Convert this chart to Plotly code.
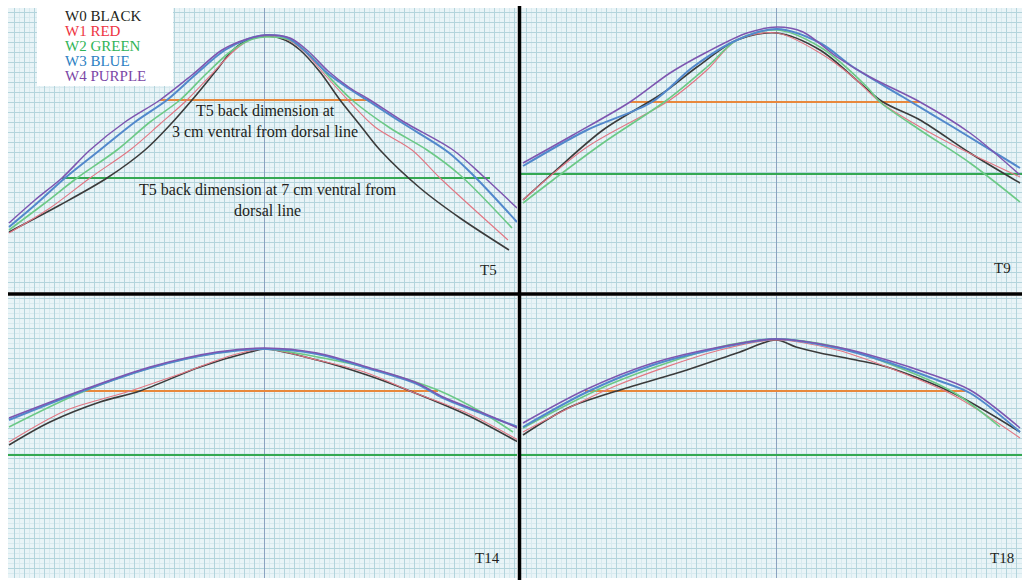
import plotly.graph_objects as go

W, H = 1022, 580

SERIES = ["W0", "W1", "W2", "W3", "W4"]
LEGEND_TEXT = ["W0 BLACK", "W1 RED", "W2 GREEN", "W3 BLUE", "W4 PURPLE"]
LINE_COLORS = ["#3b3b3b", "#e27683", "#6cc986", "#5288cc", "#7d55b0"]
LINE_WIDTHS = [1.6, 1.1, 1.6, 2.0, 1.5]
TEXT_COLORS = ["#231f20", "#ee3342", "#2fb457", "#2b7fc3", "#7b47a6"]

# ---- T5 (x, y in mm on the grid paper; x=0 at the dorsal centre line) ----
T5_X = {
    "W0": [-127.5, -102, -78.5, -59.5, -47, -36, -24.5, -15.5, -7, 2, 10.5, 18, 28, 38, 48, 58, 78, 98, 122.5],
    "W1": [-127.5, -107, -87, -67, -52, -38.5, -27, -14.5, -6, 1, 12, 20.5, 30.5, 42, 55.5, 74, 88, 122],
    "W2": [-127.5, -109.5, -93.5, -73.5, -57, -42, -29.5, -17, -7, 1, 13, 23, 33, 44, 63, 81.5, 98, 124],
    "W3": [-127.5, -114.5, -99.5, -82, -64.5, -48.5, -34.5, -19.5, -8, 1, 12, 21, 31, 42, 53, 70, 92, 105.5, 126.5],
    "W4": [-127.5, -114.5, -101, -87, -69.5, -52, -36, -21, -8.5, 1, 13, 22, 32, 43, 53, 70, 94.5, 110, 126.5],
}
T5_Y = {
    "W0": [30, 43.5, 57, 71, 83.5, 96, 110, 121, 126.5, 128, 126, 121, 110, 96, 83.5, 71, 52, 37, 21],
    "W1": [29.5, 42, 57, 71, 84, 96, 108, 121, 126.5, 128, 126, 120, 108.5, 96, 82.5, 71, 57, 26],
    "W2": [31, 44.5, 57, 71, 85, 96, 108.5, 120, 126, 127.5, 126, 118.5, 107, 96, 82, 71, 58.5, 32],
    "W3": [32.5, 43.5, 57, 71, 85, 96, 108.5, 121, 126.5, 128.5, 127, 120, 110, 102, 95, 84, 70, 57.5, 35],
    "W4": [34.5, 46, 57, 71, 85, 96, 108.5, 121, 126.5, 128.5, 127, 120.5, 110.5, 102, 96, 85, 71, 57.5, 42],
}

# ---- T9 ----
T9_X = {
    "W0": [-126.5, -111.5, -86.5, -56.5, -39.5, -19.5, 0.5, 22, 42, 53.5, 72, 97, 122],
    "W1": [-126.5, -94.5, -53, -34.5, -19.5, 0.5, 22, 38.5, 52, 72, 93.5, 122],
    "W2": [-126.5, -111.5, -86.5, -54.5, -34.5, -19.5, 0.5, 22, 45.5, 52, 72, 97, 122],
    "W3": [-126.5, -94.5, -62, -41.5, -19.5, 0.5, 22, 38.5, 63.5, 88.5, 122],
    "W4": [-126.5, -101.5, -73, -53, -34.5, -14.5, 0.5, 13.5, 30.5, 47, 72, 97, 122],
}
T9_Y = {
    "W0": [46, 59.5, 81, 99.5, 112.5, 126, 129.5, 121, 104.5, 95, 86, 69.5, 54.5],
    "W1": [46, 72.5, 96, 111, 126, 129.5, 119.5, 107.5, 95, 82.5, 71, 57.5],
    "W2": [44.5, 56, 74.5, 96, 112.5, 126, 131, 122.5, 102.5, 95, 81, 64.5, 45],
    "W3": [63, 81, 95, 112.5, 126, 131.5, 124.5, 112.5, 97.5, 82.5, 62],
    "W4": [64.5, 78.5, 95, 109.5, 120, 129.5, 132.5, 130, 117.5, 107.5, 95, 79.5, 58.5],
}

# ---- T14 ----
T14_X = {
    "W0": [-127.5, -107, -82, -62, -32, -7, 0.5, 26.5, 51.5, 73, 101.5, 127],
    "W1": [-127.5, -98.5, -67, -40.5, -15.5, 0.5, 26.5, 51.5, 73, 101.5, 127],
    "W2": [-127.5, -92, -57, -23.5, 0.5, 34.5, 59.5, 88, 109.5, 124.5],
    "W3": [-127.5, -92, -57, -23.5, 0.5, 26.5, 51.5, 76.5, 89.5, 109.5, 127],
    "W4": [-127.5, -92, -57, -23.5, 0.5, 26.5, 51.5, 76.5, 89.5, 109.5, 127],
}
T14_Y = {
    "W0": [66.5, 78, 88, 93.5, 105.5, 113, 114.5, 109, 101.5, 93.5, 81.5, 68],
    "W1": [68, 84, 93.5, 102.5, 111.5, 114.5, 109, 102.5, 93.5, 82.5, 69],
    "W2": [75.5, 92.5, 105, 112.5, 114.5, 109, 103, 93.5, 82.5, 73],
    "W3": [79, 93, 105, 112.5, 114.5, 112, 105, 97, 90, 82, 75.5],
    "W4": [80, 93.5, 105.5, 113, 115, 112.5, 105.5, 97.5, 90.5, 82.5, 75],
}

# ---- T18 ----
T18_X = {
    "W0": [-126.5, -103, -78, -44.5, -19.5, 0, 10, 22, 40, 55.5, 88.5, 122],
    "W1": [-126.5, -81.5, -28, 0, 30.5, 55.5, 88.5, 122],
    "W2": [-126.5, -81.5, -28, 0, 30.5, 55.5, 88.5, 112],
    "W3": [-126.5, -94.5, -61.5, -28, 0, 30.5, 55.5, 80.5, 97, 122],
    "W4": [-126.5, -94.5, -61.5, -28, 0, 30.5, 55.5, 75.5, 97, 122],
}
T18_Y = {
    "W0": [71.5, 85.5, 94, 104, 112.5, 119, 115.5, 112.5, 109, 105.5, 92.5, 73],
    "W1": [73, 95.5, 114, 119, 114, 105.5, 91.5, 70],
    "W2": [75, 97.5, 115.5, 119.5, 115.5, 107.5, 93, 75.5],
    "W3": [75.5, 93, 106.5, 115, 119.5, 115, 108, 99, 92.5, 73],
    "W4": [77.5, 94.5, 107.5, 115.5, 119.5, 115.5, 109, 102.5, 94, 75],
}

# reference lines: (y, x_start, x_end)
ORANGE = {"T5": (96, -52, 53), "T9": (95, -73, 72), "T14": (93.5, -92, 87), "T18": (93.5, -95.5, 94.5)}
GREEN = {"T5": (57, -101, 113), "T9": (59, -127.5, 123), "T14": (61.5, -128, 126.5), "T18": (61.5, -127.5, 123)}

PANELS = ["T5", "T9", "T14", "T18"]
PANEL_X = {"T5": T5_X, "T9": T9_X, "T14": T14_X, "T18": T18_X}
PANEL_Y = {"T5": T5_Y, "T9": T9_Y, "T14": T14_Y, "T18": T18_Y}
X_RANGE = {"T5": [-128, 126.5], "T9": [-127.5, 123], "T14": [-128, 126.5], "T18": [-127.5, 123]}
Y_RANGE = {"T5": [0, 142], "T9": [0, 142], "T14": [0, 141], "T18": [0, 141]}
LABEL_POS = {"T5": (112, 11), "T9": (113, 12), "T14": (111.5, 10), "T18": (113, 10)}

# panel placement in pixels (left, right, top, bottom)
BOX = {"T5": (8, 517, 8, 292), "T9": (521, 1022, 8, 292),
       "T14": (8, 517, 296, 578), "T18": (521, 1022, 296, 578)}

fig = go.Figure()
SERIF = "Liberation Serif, DejaVu Serif, serif"

for i, p in enumerate(PANELS):
    n = "" if i == 0 else str(i + 1)
    xa, ya = "x" + n, "y" + n
    l, r, t, b = BOX[p]
    axis_common = dict(showticklabels=False, ticks="", showline=False,
                       gridcolor="#b3d4dc", gridwidth=1,
                       minor=dict(dtick=2.5, showgrid=True, gridcolor="#d8eaef", gridwidth=1))
    fig.layout["xaxis" + n] = dict(domain=[l / W, r / W], range=X_RANGE[p], anchor=ya,
                                   dtick=5, tick0=0, zeroline=True, zerolinecolor="#8aa3c0",
                                   zerolinewidth=1, fixedrange=True, **axis_common)
    fig.layout["yaxis" + n] = dict(domain=[1 - b / H, 1 - t / H], range=Y_RANGE[p], anchor=xa,
                                   dtick=5, tick0=0, zeroline=False, fixedrange=True, **axis_common)

    oy, ox0, ox1 = ORANGE[p]
    fig.add_trace(go.Scatter(x=[ox0, ox1], y=[oy, oy], mode="lines", xaxis=xa, yaxis=ya,
                             line=dict(color="#e8883c", width=2), showlegend=False, hoverinfo="skip"))
    gy, gx0, gx1 = GREEN[p]
    fig.add_trace(go.Scatter(x=[gx0, gx1], y=[gy, gy], mode="lines", xaxis=xa, yaxis=ya,
                             line=dict(color="#35a852", width=2), showlegend=False, hoverinfo="skip"))

    for k, s in enumerate(SERIES):
        fig.add_trace(go.Scatter(x=PANEL_X[p][s], y=PANEL_Y[p][s], mode="lines", xaxis=xa, yaxis=ya,
                                 line=dict(color=LINE_COLORS[k], width=LINE_WIDTHS[k],
                                           shape="spline", smoothing=0.9),
                                 name=s, showlegend=False))

    lx, ly = LABEL_POS[p]
    fig.add_annotation(x=lx, y=ly, xref=xa, yref=ya, text=p, showarrow=False,
                       font=dict(family=SERIF, size=15, color="#231f20"))

# explanatory texts in T5
fig.add_annotation(x=0.5, y=85.5, xref="x", yref="y", showarrow=False,
                   text="T5 back dimension at<br>3 cm ventral from dorsal line",
                   font=dict(family=SERIF, size=16, color="#231f20"))
fig.add_annotation(x=2, y=46, xref="x", yref="y", showarrow=False,
                   text="T5 back dimension at 7 cm ventral from<br>dorsal line",
                   font=dict(family=SERIF, size=16, color="#231f20"))

# legend box
fig.add_shape(type="rect", xref="paper", yref="paper", x0=37 / W, x1=173 / W,
              y0=1 - 86 / H, y1=1 - 4 / H, fillcolor="white", line=dict(width=0), layer="above")
for k, txt in enumerate(LEGEND_TEXT):
    fig.add_annotation(x=63 / W, y=1 - (16 + 15 * k) / H, xref="paper", yref="paper",
                       xanchor="left", yanchor="middle", showarrow=False, text=txt,
                       font=dict(family=SERIF, size=15, color=TEXT_COLORS[k]))

# black separators between panels
fig.add_shape(type="line", xref="paper", yref="paper", x0=519.5 / W, x1=519.5 / W,
              y0=0, y1=1 - 6 / H, line=dict(color="black", width=3.5), layer="above")
fig.add_shape(type="line", xref="paper", yref="paper", x0=8 / W, x1=1,
              y0=1 - 294 / H, y1=1 - 294 / H, line=dict(color="black", width=3.5), layer="above")

fig.update_layout(width=W, height=H, margin=dict(l=0, r=0, t=0, b=0),
                  paper_bgcolor="white", plot_bgcolor="#e9f4f7", showlegend=False,
                  hovermode=False)

fig.write_html("out.html", config={"displayModeBar": False, "staticPlot": True},
               post_script="document.body.style.margin='0';document.body.style.overflow='hidden';")
